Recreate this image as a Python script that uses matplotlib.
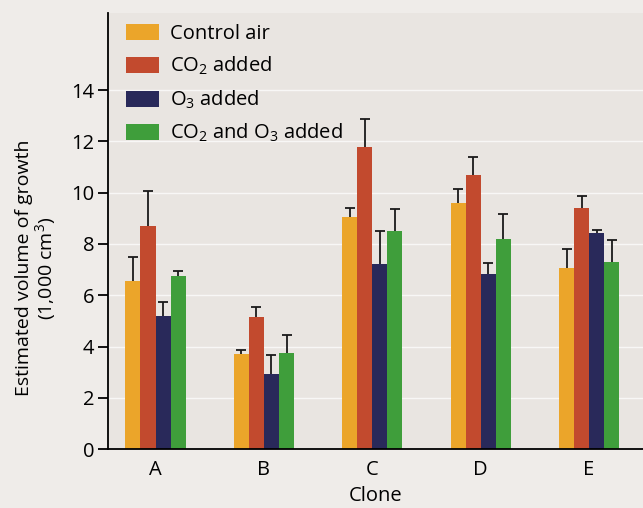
import numpy as np
import matplotlib.pyplot as plt

plt.rcParams['font.family'] = ['Open Sans', 'DejaVu Sans']
plt.rcParams['mathtext.fontset'] = 'custom'
plt.rcParams['mathtext.rm'] = 'Open Sans'

# Data
clones = ['A', 'B', 'C', 'D', 'E']
labels = ['Control air', 'CO$_\\mathregular{2}$ added', 'O$_\\mathregular{3}$ added',
          'CO$_\\mathregular{2}$ and O$_\\mathregular{3}$ added']
control = [6.57, 3.71, 9.06, 9.58, 7.07]
co2 = [8.70, 5.16, 11.78, 10.70, 9.41]
o3 = [5.18, 2.93, 7.20, 6.81, 8.41]
co2_o3 = [6.76, 3.73, 8.50, 8.20, 7.28]
# upper error bar tops
control_top = [7.48, 3.88, 9.40, 10.16, 7.79]
co2_top = [10.06, 5.55, 12.89, 11.39, 9.87]
o3_top = [5.73, 3.68, 8.50, 7.27, 8.54]
co2_o3_top = [6.93, 4.43, 9.38, 9.18, 8.16]

series = [control, co2, o3, co2_o3]
tops = [control_top, co2_top, o3_top, co2_o3_top]
colors = ['#eba52a', '#c24a2e', '#29295a', '#3f9e3b']

fig = plt.figure(figsize=(6.43, 5.08), dpi=100, facecolor='#efece9')
ax = fig.add_axes([0.168, 0.116, 0.832, 0.858])
ax.set_facecolor('#e9e5e1')

x = np.arange(len(clones))
w = 0.139
for i in range(4):
    pos = x + (i - 1.5) * w
    vals = np.array(series[i])
    err = np.array(tops[i]) - vals
    ax.bar(pos, vals, w, color=colors[i], label=labels[i], zorder=2)
    # one-sided (upward) error bars with a cap only at the top
    ax.errorbar(pos, vals, yerr=[np.zeros_like(err), err], fmt='none',
                ecolor='#1a1a1a', elinewidth=1.3, capsize=0, zorder=3)
    ax.plot(pos, tops[i], ls='none', marker='_', ms=7, mew=1.3,
            color='#1a1a1a', zorder=3)

ax.set_xlim(-0.438, 4.497)
ax.set_ylim(0, 17)
ax.set_yticks(np.arange(0, 15, 2))
ax.set_xticks(x)
ax.set_xticklabels(clones)
ax.yaxis.grid(True, color='white', linewidth=1.0, alpha=0.7, zorder=0)
ax.set_axisbelow(True)
for s in ['top', 'right']:
    ax.spines[s].set_visible(False)
ax.spines['left'].set_linewidth(1.3)
ax.spines['bottom'].set_linewidth(1.3)
ax.tick_params(axis='y', length=7, width=1.3, labelsize=14.5, pad=3)
ax.tick_params(axis='x', length=0, labelsize=14.5, pad=8)

ax.set_xlabel('Clone', fontsize=14.5, labelpad=4)
ax.text(-0.133, 0.415, 'Estimated volume of growth\n(1,000 cm$^\\mathregular{3}$)',
        transform=ax.transAxes, rotation=90, ha='center', va='center',
        multialignment='center', fontsize=14, linespacing=1.0)

ax.legend(loc='upper left', bbox_to_anchor=(0.034, 0.975), frameon=False,
          fontsize=14.5, handlelength=1.65, handleheight=0.85, handletextpad=0.5,
          labelspacing=0.55, borderpad=0, borderaxespad=0)

fig.savefig('out.png', dpi=100, facecolor=fig.get_facecolor())
